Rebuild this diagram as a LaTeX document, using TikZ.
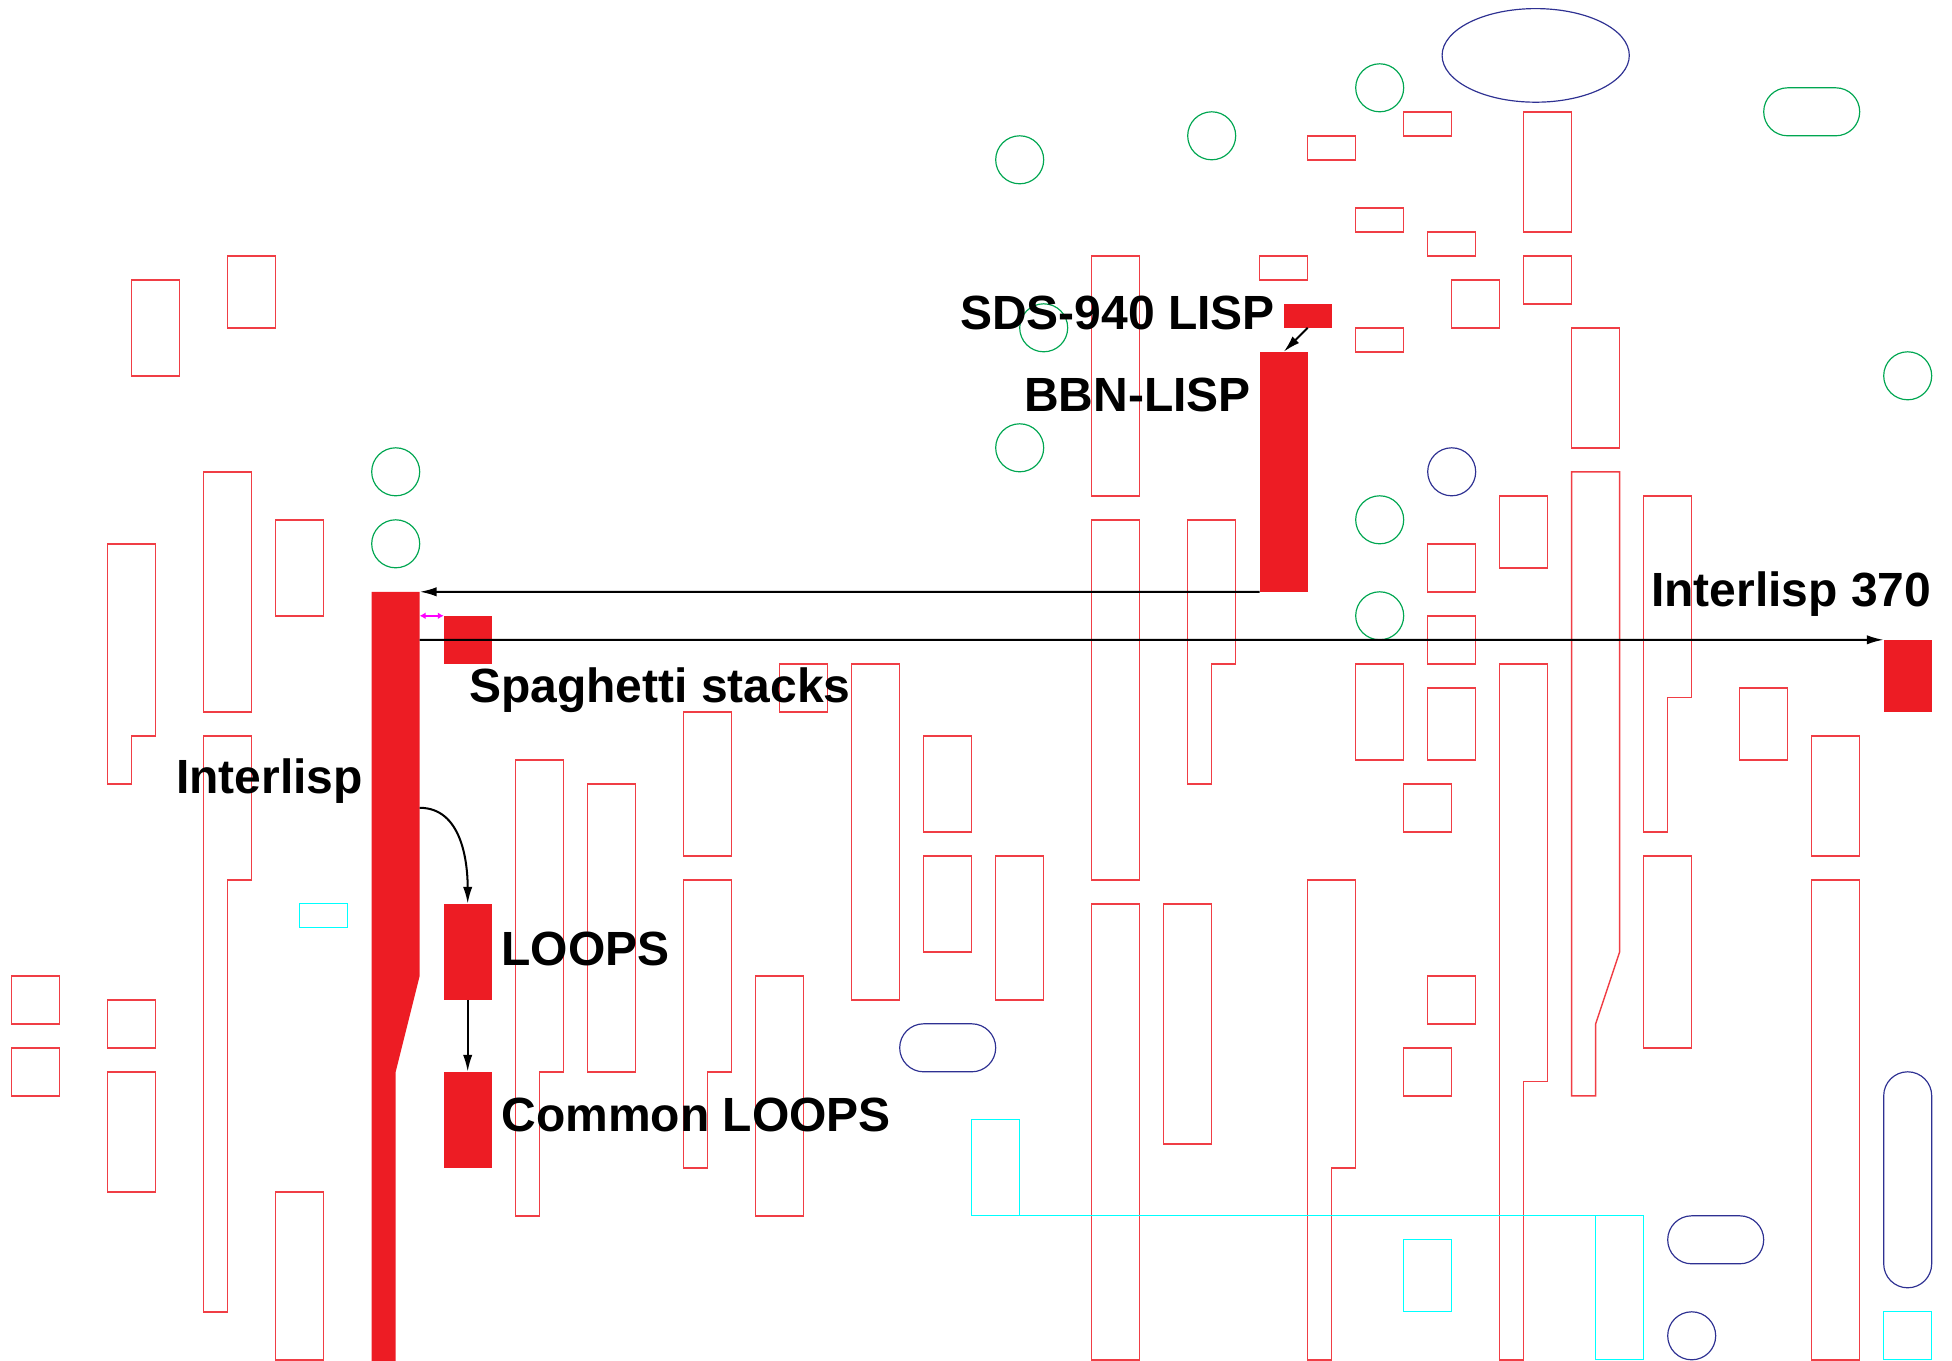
\documentclass[tikz,border=0pt]{standalone}
\usepackage{fontspec}
\setmainfont{Liberation Sans}
\usetikzlibrary{arrows.meta}
\definecolor{lred}{RGB}{237,28,36}
\definecolor{lgreen}{RGB}{0,166,81}
\definecolor{lnavy}{RGB}{46,49,146}
\definecolor{lcyan}{RGB}{0,255,255}
\definecolor{lmag}{RGB}{255,0,255}
\begin{document}
\begin{tikzpicture}[x=0.5cm,y=-0.5cm,
  ro/.style={draw=lred!85,line width=0.85pt},
  go/.style={draw=lgreen,line width=0.7pt},
  bo/.style={draw=lnavy,line width=0.7pt},
  co/.style={draw=lcyan,line width=0.8pt},
  fbox/.style={fill=lred,draw=none,inner sep=0pt,outer sep=0pt},
  lab/.style={font=\fontsize{28.45}{34}\selectfont\bfseries,inner sep=0pt},
  arr/.style={line width=1.2pt,-{Latex[length=10pt,width=5.5pt]}}]
\useasboundingbox (-0.4875,-0.6583) rectangle (80.846,56.05);

% red outline rectangles
\foreach \a/\b/\c/\d in {5/11/7/15, 9/10/11/13, 8/19/10/29, 11/21/13/25, 0/40/2/42, 0/43/2/45,
  4/41/6/43, 4/44/6/49, 11/49/13/56, 54/5/56/6, 58/4/60/5, 56/8/58/9, 59/9/61/10, 52/10/54/11,
  63/4/65/9, 63/10/65/12, 60/11/62/13, 56/13/58/14, 65/13/67/18, 45/10/47/20, 45/21/47/36,
  59/22/61/24, 62/20/64/23, 59/25/61/27, 56/27/58/31, 59/28/61/31, 58/32/60/34, 72/28/74/31,
  75/30/77/35, 68/35/70/43, 59/40/61/42, 58/43/60/45, 48/37/50/47, 45/37/47/56, 75/36/77/56,
  32/27/34/29, 35/27/37/41, 28/29/30/35, 38/30/40/34, 38/35/40/39, 41/35/43/41, 31/40/33/50,
  24/32/26/44}
  \draw[ro] (\a,\b) rectangle (\c,\d);

% red stepped outlines
\draw[ro] (4,22) -- (6,22) -- (6,30) -- (5,30) -- (5,32) -- (4,32) -- cycle;
\draw[ro] (8,30) -- (10,30) -- (10,36) -- (9,36) -- (9,54) -- (8,54) -- cycle;
\draw[ro] (49,21) -- (51,21) -- (51,27) -- (50,27) -- (50,32) -- (49,32) -- cycle;
\draw[ro] (65,19) -- (67,19) -- (67,39) -- (66,42) -- (66,45) -- (65,45) -- cycle;
\draw[ro] (68,20) -- (70,20) -- (70,28.4) -- (69,28.4) -- (69,34) -- (68,34) -- cycle;
\draw[ro] (62,27) -- (64,27) -- (64,44.4) -- (63,44.4) -- (63,56) -- (62,56) -- cycle;
\draw[ro] (54,36) -- (56,36) -- (56,48) -- (55,48) -- (55,56) -- (54,56) -- cycle;
\draw[ro] (28,36) -- (30,36) -- (30,44) -- (29,44) -- (29,48) -- (28,48) -- cycle;
\draw[ro] (21,31) -- (23,31) -- (23,44) -- (22,44) -- (22,50) -- (21,50) -- cycle;

% green
\foreach \p in {(16,19),(16,22),(42,6),(50,5),(57,3),(43,13),(42,18),(57,21),(57,25),(79,15)}
  \draw[go] \p circle[radius=0.5cm];
\draw[go,rounded corners=0.5cm] (73,3) rectangle (77,5);

% navy
\draw[bo] (63.5,1.65) ellipse[x radius=1.95cm, y radius=0.975cm];
\draw[bo] (60,19) circle[radius=0.5cm];
\draw[bo] (70,55) circle[radius=0.5cm];
\draw[bo,rounded corners=0.5cm] (37,42) rectangle (41,44);
\draw[bo,rounded corners=0.5cm] (69,50) rectangle (73,52);
\draw[bo,rounded corners=0.5cm] (78,44) rectangle (80,53);

% cyan
\draw[co] (12,37) rectangle (14,38);
\draw[co] (58,51) rectangle (60,54);
\draw[co] (78,54) rectangle (80,56);
\draw[co] (40,50) -- (40,46) -- (42,46) -- (42,50);
\draw[co] (40,50) -- (68,50) -- (68,56);
\draw[co] (66,50) -- (66,56) -- (68,56);

% filled lineage boxes
\fill[lred] (15,24) -- (17,24) -- (17,40) -- (16,44) -- (16,56.2) -- (15,56.2) -- cycle;
\coordinate (ilA) at (17,24);
\coordinate (ilB) at (17,26);
\coordinate (ilC) at (17,33);
\coordinate (ilD) at (17,25);
\node[fbox,minimum width=1cm,minimum height=0.5cm] (sds) at (54,12.5) {};
\node[fbox,minimum width=1cm,minimum height=5cm] (bbn) at (53,19) {};
\node[fbox,minimum width=1cm,minimum height=1cm] (spag) at (19,26) {};
\node[fbox,minimum width=1cm,minimum height=2cm] (loops) at (19,39) {};
\node[fbox,minimum width=1cm,minimum height=2cm] (cloops) at (19,46) {};
\node[fbox,minimum width=1cm,minimum height=1.5cm] (i370) at (79,27.5) {};

% connectors
\draw[arr] (sds.south) -- (bbn.north);
\draw[arr] (bbn.south west) -- (ilA);
\draw[arr] (ilB) -- (i370.north west);
\draw[arr] (ilC) to[out=0,in=90] (loops.north);
\draw[arr] (loops.south) -- (cloops.north);
\draw[lmag,line width=1.1pt,{Latex[length=3.5pt,width=4pt]}-{Latex[length=3.5pt,width=4pt]}] (ilD) -- (spag.north west);

% labels
\node[lab,anchor=base east] (tsds) at (52.65,13.05) {SDS-940 LISP};
\node[lab,anchor=base east] (tbbn) at (51.65,16.5) {BBN-LISP};
\node[lab,anchor=base east] (til) at (14.65,32.4) {Interlisp};
\node[lab,anchor=base west] (tspag) at (19.05,28.6) {Spaghetti stacks};
\node[lab,anchor=base west] (tloops) at (20.4,39.55) {LOOPS};
\node[lab,anchor=base west] (tcl) at (20.4,46.5) {Common LOOPS};
\node[lab,anchor=base east] (t370) at (80,24.6) {Interlisp 370};
\end{tikzpicture}
\end{document}
